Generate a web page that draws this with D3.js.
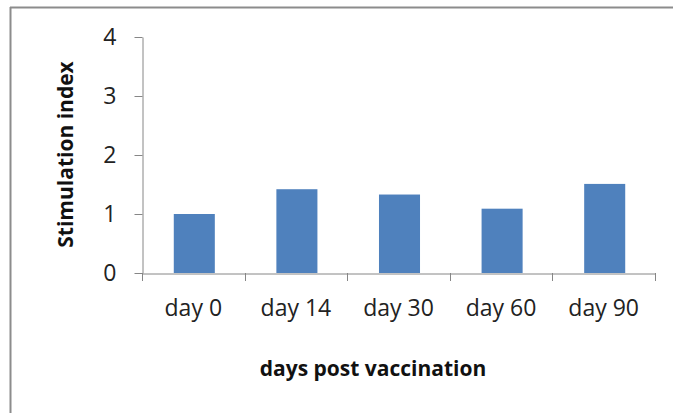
<!DOCTYPE html>
<html>
<head>
<meta charset="utf-8">
<script src="https://cdn.jsdelivr.net/npm/d3@7"></script>
<style>
  html, body { margin: 0; padding: 0; background: #fff; }
  svg { display: block; font-family: "Open Sans", sans-serif; }
</style>
</head>
<body>
<svg id="chart" width="673" height="413"></svg>
<script>
// Stimulation index by sampling day
const categories = ["day 0", "day 14", "day 30", "day 60", "day 90"];
const stimulationIndex = [1.0, 1.42, 1.33, 1.09, 1.51];
const yTicks = [0, 1, 2, 3, 4];

const svg = d3.select("#chart");

// outer frame (top and left edges visible)
svg.append("line").attr("x1", 10).attr("x2", 673).attr("y1", 7.5).attr("y2", 7.5)
  .attr("stroke", "#8c8c8c").attr("stroke-width", 2);
svg.append("line").attr("x1", 10.5).attr("x2", 10.5).attr("y1", 7).attr("y2", 413)
  .attr("stroke", "#8c8c8c").attr("stroke-width", 2);

const x0 = 142, x1 = 655, yBase = 273, yTop = 37;

const x = d3.scaleBand().domain(categories).range([x0, x1])
  .paddingInner(0.6).paddingOuter(0.3);
const y = d3.scaleLinear().domain([0, 4]).range([yBase, yTop]);

// bars
svg.append("g").selectAll("rect")
  .data(categories.map((c, i) => ({ c, v: stimulationIndex[i] })))
  .join("rect")
  .attr("x", d => x(d.c) + 1)
  .attr("width", x.bandwidth())
  .attr("y", d => y(d.v))
  .attr("height", d => y(0) - y(d.v))
  .attr("fill", "#4f81bd");

// y axis
const yAxis = svg.append("g")
  .attr("transform", `translate(${x0 + 0.5},0)`)
  .call(d3.axisLeft(y).tickValues(yTicks).tickFormat(d3.format("d"))
    .tickSize(8).tickSizeOuter(0).tickPadding(18))
  .attr("font-family", null).attr("font-size", null);
yAxis.select(".domain").attr("stroke", "#868686");
yAxis.selectAll(".tick line").attr("stroke", "#868686");
yAxis.selectAll(".tick text").attr("fill", "#222").style("font-size", "23px");

// x axis; tick marks are drawn at category boundaries below
const xAxis = svg.append("g")
  .attr("transform", `translate(0,${yBase + 0.5})`)
  .call(d3.axisBottom(x).tickSize(0).tickSizeOuter(0).tickPadding(26))
  .attr("font-family", null).attr("font-size", null);
xAxis.select(".domain").attr("stroke", "#868686");
xAxis.selectAll(".tick text").attr("fill", "#222").style("font-size", "23px");

const boundaries = [x0].concat(categories.map(c =>
  x(c) + x.bandwidth() + x.step() * x.paddingInner() / 2));
svg.append("g").selectAll("line")
  .data(boundaries)
  .join("line")
  .attr("x1", d => Math.round(d) + 0.5).attr("x2", d => Math.round(d) + 0.5)
  .attr("y1", yBase).attr("y2", yBase + 8)
  .attr("stroke", "#868686");

// axis titles
svg.append("text")
  .attr("x", 373).attr("y", 376)
  .attr("text-anchor", "middle")
  .style("font-size", "21px").style("font-weight", "bold")
  .attr("fill", "#111")
  .text("days post vaccination");

svg.append("text")
  .attr("transform", "translate(73,154.5) rotate(-90)")
  .attr("text-anchor", "middle")
  .style("font-size", "21px").style("font-weight", "bold")
  .attr("fill", "#111")
  .text("Stimulation index");
</script>
</body>
</html>
